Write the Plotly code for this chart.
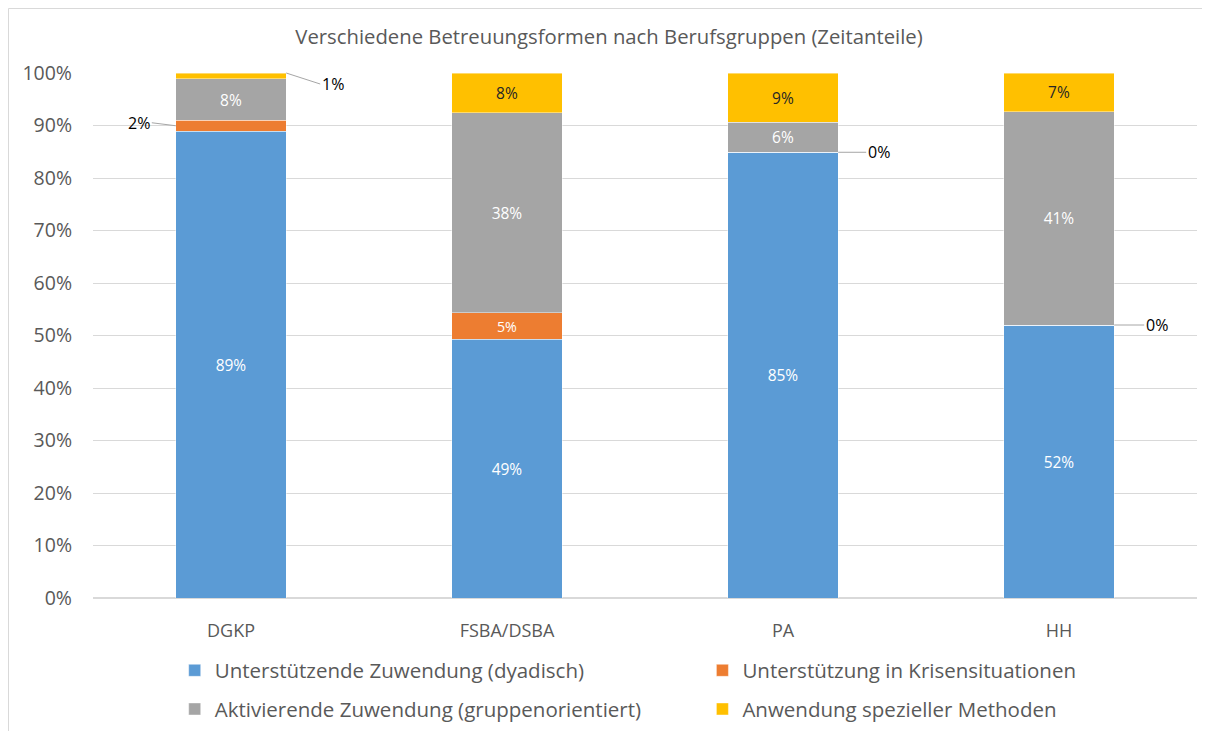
import plotly.graph_objects as go

categories = ["DGKP", "FSBA/DSBA", "PA", "HH"]
series_names = [
    "Unterstützende Zuwendung (dyadisch)",
    "Unterstützung in Krisensituationen",
    "Aktivierende Zuwendung (gruppenorientiert)",
    "Anwendung spezieller Methoden",
]
dyadisch = [88.9, 49.3, 84.9, 52.0]
krise = [2.1, 5.0, 0.0, 0.0]
aktivierend = [7.9, 38.1, 5.7, 40.6]
methoden = [1.1, 7.6, 9.4, 7.4]
colors = ["#5B9BD5", "#ED7D31", "#A5A5A5", "#FFC000"]
label_colors = ["white", "white", "white", "#262626"]
legend_ids = ["legend", "legend2", "legend", "legend2"]

all_series = [dyadisch, krise, aktivierend, methoden]
# labels placed outside with leader lines: (series index, category index) -> offsets
outside = {
    (1, 0): dict(x_off=-0.2, ax=-24, ay=-3, xanchor="right"),
    (3, 0): dict(x_off=0.2, ax=34, ay=11, xanchor="left", at_top=True),
    (1, 2): dict(x_off=0.2, ax=28, ay=0, xanchor="left"),
    (1, 3): dict(x_off=0.2, ax=30, ay=0, xanchor="left"),
}

FONT = "Open Sans"
W, H = 1202, 723
ML, MR, MT, MB = 85, 13, 65, 133
PW, PH = W - ML - MR, H - MT - MB

fig = go.Figure()
for si, (name, vals) in enumerate(zip(series_names, all_series)):
    texts = []
    for ci, v in enumerate(vals):
        texts.append("" if (si, ci) in outside else f"{round(v)}%")
    fig.add_trace(go.Bar(
        name=name, x=categories, y=vals, marker_color=colors[si],
        marker_line_width=0.6, marker_line_color="rgba(255,255,255,0.7)",
        text=texts, texttemplate="%{text}", textposition="inside",
        insidetextanchor="middle", textangle=0,
        textfont=dict(color=label_colors[si], size=15.5, family=FONT),
        hoverinfo="skip", legend=legend_ids[si], legendgroup=f"g{si}",
    ))

# leader-line labels
for (si, ci), o in outside.items():
    base = sum(all_series[k][ci] for k in range(si))
    v = all_series[si][ci]
    yp = base + v if o.get("at_top") else base + v / 2
    fig.add_annotation(x=ci + o["x_off"], y=yp, xref="x", yref="y",
                       text=f"{round(v)}%", showarrow=True, arrowhead=0,
                       arrowwidth=1, arrowcolor="#A6A6A6",
                       ax=o["ax"], ay=o["ay"], xanchor=o["xanchor"],
                       font=dict(size=16, family=FONT, color="#000000"))

leg_common = dict(orientation="v", yanchor="top", y=-0.1,
                  font=dict(size=20.5, family=FONT, color="#595959"),
                  tracegroupgap=9, itemclick=False, bgcolor="rgba(0,0,0,0)")

fig.update_layout(
    barmode="stack",
    bargap=0.6,
    width=W, height=H,
    paper_bgcolor="white", plot_bgcolor="white",
    margin=dict(l=ML, r=MR, t=MT, b=MB, autoexpand=False),
    title=dict(text="Verschiedene Betreuungsformen nach Berufsgruppen (Zeitanteile)",
               x=0.5, xanchor="center", y=1 - 29 / H, yanchor="middle",
               font=dict(size=20.3, family=FONT, color="#595959")),
    font=dict(family=FONT, color="#595959"),
    showlegend=True,
    legend=dict(x=0.074, xanchor="left", **leg_common),
    legend2=dict(x=0.552, xanchor="left", **leg_common),
    xaxis=dict(tickfont=dict(size=18, family=FONT, color="#595959"),
               showline=False, ticks="", ticklabelstandoff=20),
    yaxis=dict(range=[0, 100], dtick=10, ticksuffix="%",
               tickfont=dict(size=19.5, family=FONT, color="#595959"),
               showgrid=True, gridcolor="#D9D9D9", gridwidth=1,
               zeroline=True, zerolinecolor="#D9D9D9", showline=False,
               ticklabelstandoff=20),
)

# chart area border (only top and left edges are visible in the frame)
fig.add_shape(type="rect", xref="paper", yref="paper",
              x0=-(ML - 0.5) / PW, x1=1 + (MR + 20) / PW,
              y0=-(MB + 20) / PH, y1=1 + (MT - 0.5) / PH,
              line=dict(color="#D9D9D9", width=1), fillcolor="rgba(0,0,0,0)",
              layer="below")

fig.write_html("out.html")
